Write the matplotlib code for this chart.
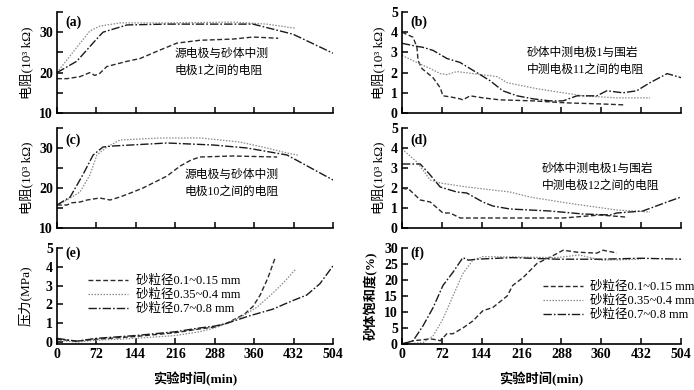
import matplotlib.pyplot as plt
from matplotlib.ticker import MultipleLocator

# three sand grain sizes; fine = dashed, mid = dotted, coarse = dash-dot
labels = ['砂粒径0.1~0.15 mm', '砂粒径0.35~0.4 mm', '砂粒径0.7~0.8 mm']

# (a) source electrode - sand electrode 1
a_fine_t = [0, 18, 42, 60, 69, 78, 91, 128, 152, 183, 219, 261, 321, 358, 404]
a_fine_r = [18.5, 18.5, 19, 20, 19.3, 19.8, 21.5, 22.8, 23.5, 25.3, 27.3, 28, 28.3, 28.8, 28.5]
a_mid_t = [0, 30, 60, 78, 115, 200, 322, 383, 435]
a_mid_r = [20, 25.2, 30.3, 31.5, 32.3, 32.3, 32.5, 32, 31]
a_coarse_t = [0, 36, 69, 84, 128, 200, 290, 358, 431, 504]
a_coarse_r = [20, 22.8, 27.8, 30, 31.8, 32, 32, 32, 29.5, 24.8]

# (b) sand electrode 1 - rock electrode 11
b_fine_t = [0, 20, 27, 29, 36, 56, 69, 74, 87, 105, 110, 123, 146, 177, 237, 298, 358, 403]
b_fine_r = [4.0, 3.75, 3.25, 2.6, 2.2, 1.75, 1.25, 0.85, 0.8, 0.7, 0.65, 0.85, 0.75, 0.65, 0.6, 0.5, 0.45, 0.4]
b_mid_t = [0, 27, 51, 69, 81, 99, 172, 190, 244, 327, 388, 448]
b_mid_r = [2.85, 2.5, 2.2, 1.95, 1.9, 2.05, 1.8, 1.5, 1.2, 0.85, 0.75, 0.75]
b_coarse_t = [0, 27, 38, 56, 81, 105, 135, 159, 182, 208, 237, 267, 291, 316, 352, 370, 399, 424, 448, 479, 504]
b_coarse_r = [3.45, 3.3, 3.25, 3.1, 2.7, 2.5, 2.0, 1.6, 1.1, 0.85, 0.7, 0.6, 0.6, 0.85, 0.85, 1.1, 1.0, 1.1, 1.5, 1.95, 1.75]

# (c) source electrode - sand electrode 10
c_fine_t = [0, 18, 27, 42, 55, 78, 97, 115, 139, 157, 201, 225, 245, 261, 321, 402]
c_fine_r = [15.75, 15.75, 16.3, 16.5, 17, 17.5, 17, 17.75, 19, 20, 23, 25.5, 27, 27.75, 28, 27.75]
c_mid_t = [0, 18, 42, 60, 73, 91, 115, 188, 261, 334, 383, 420, 440]
c_mid_r = [15.75, 17, 19, 23.25, 28.25, 30.25, 32, 32.5, 32.5, 31.5, 30, 28.75, 28.2]
c_coarse_t = [0, 24, 47, 66, 84, 102, 201, 285, 347, 420, 504]
c_coarse_r = [15.75, 17.75, 23.25, 28.25, 30.25, 30.5, 31.25, 30.75, 30, 28.25, 22]

# (d) sand electrode 1 - rock electrode 12
d_fine_t = [0, 14, 33, 51, 74, 87, 105, 208, 291, 358, 403]
d_fine_r = [2.0, 1.9, 1.4, 1.3, 0.75, 0.75, 0.5, 0.5, 0.5, 0.65, 0.55]
d_mid_t = [0, 27, 51, 69, 117, 195, 231, 298, 388, 448]
d_mid_r = [3.95, 3.3, 2.4, 2.25, 2.05, 1.8, 1.55, 1.25, 0.9, 0.8]
d_coarse_t = [0, 33, 51, 69, 99, 117, 146, 164, 195, 267, 327, 376, 388, 435, 479, 504]
d_coarse_r = [3.2, 3.2, 2.65, 2.05, 1.8, 1.75, 1.3, 1.1, 0.95, 0.85, 0.7, 0.65, 0.75, 0.85, 1.3, 1.55]

# (e) pressure, MPa
e_fine_t = [0, 36, 72, 144, 216, 260, 288, 310, 330, 343, 358, 371, 385, 398]
e_fine_p = [0.15, 0.05, 0.15, 0.3, 0.5, 0.7, 0.8, 1.0, 1.3, 1.5, 1.9, 2.5, 3.4, 4.45]
e_mid_t = [0, 36, 72, 144, 216, 260, 288, 310, 340, 365, 394, 415, 435]
e_mid_p = [0.1, 0.0, 0.1, 0.2, 0.35, 0.55, 0.75, 1.0, 1.4, 1.85, 2.6, 3.2, 3.85]
e_coarse_t = [0, 36, 72, 144, 216, 260, 288, 310, 352, 394, 430, 456, 480, 504]
e_coarse_p = [0.2, 0.05, 0.2, 0.35, 0.55, 0.75, 0.85, 1.0, 1.4, 1.75, 2.2, 2.5, 3.1, 4.05]

# (f) sand saturation, %
f_fine_t = [0, 20, 51, 63, 69, 81, 92, 110, 128, 146, 164, 190, 200, 219, 244, 267, 291, 316, 352, 363, 381, 388]
f_fine_s = [0, 1, 1.6, 1.3, 1, 3.2, 3.2, 5, 7.2, 10.4, 11.4, 15, 18.3, 20.8, 25.2, 27.1, 29.3, 28.7, 28.4, 29.3, 28.7, 28.4]
f_mid_t = [0, 38, 56, 74, 92, 110, 128, 146, 200, 280, 320, 360, 432]
f_mid_s = [0, 0.4, 2.5, 7.8, 15, 22, 26.2, 27.3, 27.2, 27, 27.8, 26.2, 26.5]
f_coarse_t = [0, 20, 38, 56, 74, 92, 110, 120, 135, 200, 280, 360, 432, 504]
f_coarse_s = [0, 1, 5.7, 11.3, 18.3, 22.4, 27, 26.2, 26.5, 27, 26.5, 26.5, 26.8, 26.5]

x_ticks = [0, 72, 144, 216, 288, 360, 432, 504]

styles = [
    dict(color='#2a2a2a', lw=1.0, ls=(0, (3.5, 1.8))),
    dict(color='#8a8a8a', lw=0.9, ls=(0, (1.2, 1.2))),
    dict(color='#1a1a1a', lw=1.0, ls=(0, (6, 1.5, 1.2, 1.5))),
]

plt.rcParams['font.family'] = ['Liberation Serif', 'Noto Sans CJK SC']
plt.rcParams['axes.unicode_minus'] = False

W, H = 694, 390


def fx(x):
    return x / W


def fy(y):
    return 1 - y / H


def setup(ax, ylim, major, minor=None, bottom=False):
    ax.set_xlim(0, 504)
    ax.set_ylim(*ylim)
    ax.set_xticks(x_ticks)
    ax.yaxis.set_major_locator(MultipleLocator(major))
    if minor:
        ax.yaxis.set_minor_locator(MultipleLocator(minor))
    for s in ['top', 'right']:
        ax.spines[s].set_visible(False)
    for s in ['left', 'bottom']:
        ax.spines[s].set_linewidth(1.2)
    ax.tick_params(direction='in', length=4, width=1.1, labelsize=10, pad=3)
    ax.tick_params(which='minor', direction='in', length=4, width=1.1)
    ax.tick_params(axis='x', labelbottom=bottom)
    for lab in ax.get_yticklabels() + ax.get_xticklabels():
        lab.set_fontweight('bold')


fig = plt.figure(figsize=(6.94, 3.9), dpi=100)

left_x, left_w = fx(57), fx(333 - 57)
right_x, right_w = fx(402), fx(681 - 402)
rows = [(fy(113), (113 - 12) / H), (fy(228), (228 - 128) / H), (fy(344), (344 - 248) / H)]

ax_a = fig.add_axes([left_x, rows[0][0], left_w, rows[0][1]])
ax_b = fig.add_axes([right_x, rows[0][0], right_w, rows[0][1]])
ax_c = fig.add_axes([left_x, rows[1][0], left_w, rows[1][1]])
ax_d = fig.add_axes([right_x, rows[1][0], right_w, rows[1][1]])
ax_e = fig.add_axes([left_x, rows[2][0], left_w, rows[2][1]])
ax_f = fig.add_axes([right_x, rows[2][0], right_w, rows[2][1]])

panels = [
    (ax_a, [(a_fine_t, a_fine_r), (a_mid_t, a_mid_r), (a_coarse_t, a_coarse_r)]),
    (ax_b, [(b_fine_t, b_fine_r), (b_mid_t, b_mid_r), (b_coarse_t, b_coarse_r)]),
    (ax_c, [(c_fine_t, c_fine_r), (c_mid_t, c_mid_r), (c_coarse_t, c_coarse_r)]),
    (ax_d, [(d_fine_t, d_fine_r), (d_mid_t, d_mid_r), (d_coarse_t, d_coarse_r)]),
    (ax_e, [(e_fine_t, e_fine_p), (e_mid_t, e_mid_p), (e_coarse_t, e_coarse_p)]),
    (ax_f, [(f_fine_t, f_fine_s), (f_mid_t, f_mid_s), (f_coarse_t, f_coarse_s)]),
]
for ax, series in panels:
    for (t, v), st, lab in zip(series, styles, labels):
        ax.plot(t, v, label=lab, **st)

setup(ax_a, (10, 35), 10, 5)
setup(ax_b, (0, 5), 1)
setup(ax_c, (10, 35), 10, 5)
setup(ax_d, (0, 5), 1)
setup(ax_e, (-0.1, 5), 1, bottom=True)
setup(ax_f, (0, 30), 5, bottom=True)

res_label = '电阻(10³ kΩ)'
for ax in [ax_a, ax_b, ax_c, ax_d]:
    ax.set_ylabel(res_label, fontsize=9.5, labelpad=4)
ax_e.set_ylabel('压力(MPa)', fontsize=9.5, labelpad=10)
ax_f.set_ylabel('砂体饱和度(%)', fontsize=9.5, labelpad=4, fontweight='bold')
for ax in [ax_e, ax_f]:
    ax.set_xlabel('实验时间(min)', fontsize=9.5, labelpad=8, fontweight='bold')

# panel letters
for ax, name, y in [(ax_a, '(a)', 0.9), (ax_b, '(b)', 0.9), (ax_c, '(c)', 0.88),
                    (ax_d, '(d)', 0.88), (ax_e, '(e)', 0.95), (ax_f, '(f)', 0.95)]:
    ax.text(0.03, y, name, transform=ax.transAxes, fontsize=10, fontweight='bold',
            va='center', ha='left')

# annotations
note_kw = dict(fontsize=8.5, linespacing=1.55, va='center', ha='left')
fig.text(fx(175), fy(62), '源电极与砂体中测\n电极1之间的电阻', **note_kw)
fig.text(fx(527), fy(61), '砂体中测电极1与围岩\n中测电极11之间的电阻', **note_kw)
fig.text(fx(185), fy(183), '源电极与砂体中测\n电极10之间的电阻', **note_kw)
fig.text(fx(542), fy(177), '砂体中测电极1与围岩\n中测电极12之间的电阻', **note_kw)

leg_kw = dict(frameon=False, fontsize=9, handlelength=3.2, handletextpad=0.6,
              labelspacing=0.15, borderpad=0, borderaxespad=0, loc='center left')
ax_e.legend(bbox_to_anchor=(fx(88), fy(295)), bbox_transform=fig.transFigure, **leg_kw)
ax_f.legend(bbox_to_anchor=(fx(543), fy(301)), bbox_transform=fig.transFigure, **leg_kw)

plt.savefig('out.png', dpi=100)
